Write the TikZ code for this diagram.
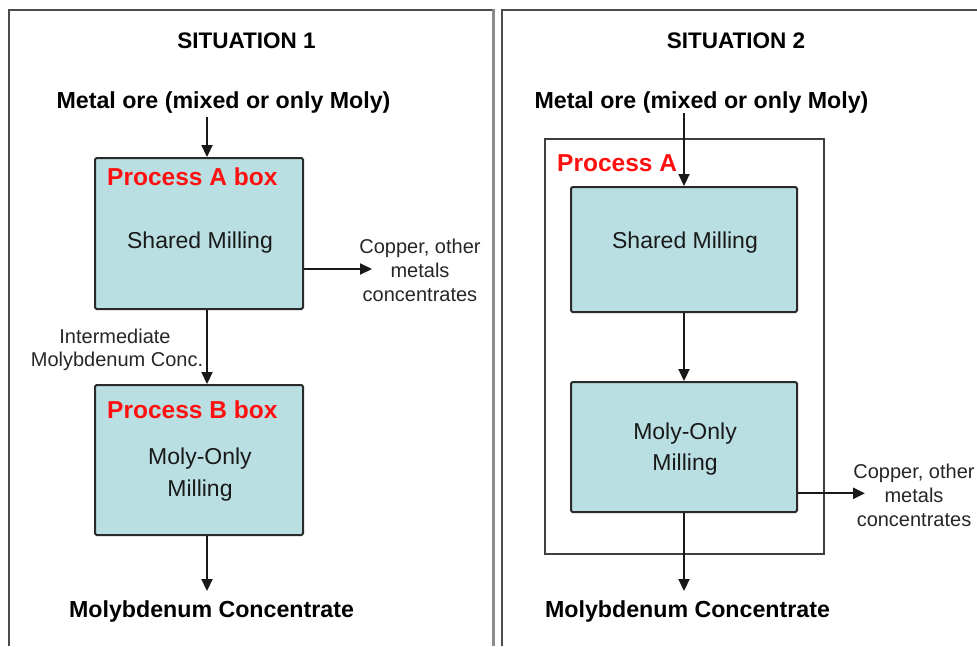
\documentclass[tikz,border=0pt]{standalone}
\usepackage{fontspec}
\setmainfont{Liberation Sans}
\usetikzlibrary{arrows.meta}
\definecolor{boxfill}{HTML}{B9DFE3}
\definecolor{boxline}{HTML}{2A2A2A}
\definecolor{procred}{HTML}{FF1010}
\tikzset{
  procbox/.style={draw=boxline, line width=2pt, fill=boxfill, rounded corners=1.5pt, inner sep=0pt},
  outerbox/.style={draw=boxline!90, line width=1.7pt, fill=none, inner sep=0pt},
  arr/.style={line width=2.2pt, draw=black!90, -{Triangle[width=11pt,length=12pt]}},
  titletxt/.style={font=\fontsize{22.5}{27}\selectfont\bfseries, inner sep=0pt, anchor=base},
  bigtxt/.style={font=\fontsize{23.2}{27}\selectfont\bfseries, inner sep=0pt, anchor=base},
  redtxt/.style={font=\fontsize{24.5}{28}\selectfont\bfseries, text=procred, inner sep=0pt, anchor=base west},
  boxtxt/.style={font=\fontsize{23}{32}\selectfont, text=black!90, inner sep=0pt, anchor=base},
  smalltxt/.style={font=\fontsize{20}{24}\selectfont, text=black!85, inner sep=0pt, anchor=base, align=center}
}
\begin{document}
\begin{tikzpicture}[x=1pt,y=-1pt]
\useasboundingbox (0,0) rectangle (977,646);
% panel frames
\draw[line width=1.6pt, draw=black!70] (9,646) -- (9,10) -- (493,10);
\draw[line width=3pt, draw=black!45] (493,9.2) -- (493,646);
\draw[line width=1.6pt, draw=black!70] (502,646) -- (502,10) -- (977,10);

% ---------- Situation 1 ----------
\node[titletxt] (s1) at (246.5,48) {SITUATION 1};
\node[bigtxt] (ore1) at (223.5,108) {Metal ore (mixed or only Moly)};
\node[procbox, minimum width=208pt, minimum height=151pt] (A1) at (199,233.5) {};
\node[procbox, minimum width=208pt, minimum height=150pt] (B1) at (199,460) {};
\node[redtxt] (A1lab) at (107,185) {Process A box};
\node[boxtxt] (A1txt) at (200,248.3) {Shared Milling};
\node[redtxt] (B1lab) at (107,418) {Process B box};
\node[boxtxt] (B1txt1) at (200,464) {Moly-Only};
\node[boxtxt] (B1txt2) at (200,496) {Milling};
\node[smalltxt] (cu1a) at (420,253.3) {Copper, other};
\node[smalltxt] (cu1b) at (420,277.5) {metals};
\node[smalltxt] (cu1c) at (420,301.5) {concentrates};
\node[smalltxt] (int1) at (115,343.3) {Intermediate};
\node[smalltxt] (int2) at (117,366.7) {Molybdenum Conc.};
\node[bigtxt] (mo1) at (211.5,617) {Molybdenum Concentrate};

\coordinate (t1) at (207,117);
\coordinate (c1) at (372,269);
\coordinate (b1end) at (207,591);
\draw[arr] (t1) -- (t1 |- A1.north);
\draw[arr] (t1 |- A1.south) -- (t1 |- B1.north);
\draw[arr] (A1.east |- c1) -- (c1);
\draw[arr] (t1 |- B1.south) -- (b1end);

% ---------- Situation 2 ----------
\node[titletxt] (s2) at (736,48) {SITUATION 2};
\node[bigtxt] (ore2) at (701.5,108) {Metal ore (mixed or only Moly)};
\node[outerbox, minimum width=279pt, minimum height=415pt] (P2) at (684.5,346.5) {};
\node[redtxt] (P2lab) at (557,171.7) {Process A};
\node[procbox, minimum width=226pt, minimum height=125pt] (A2) at (684,249.5) {};
\node[procbox, minimum width=226pt, minimum height=130pt] (B2) at (684,447) {};
\node[boxtxt] (A2txt) at (685,248) {Shared Milling};
\node[boxtxt] (B2txt1) at (685,439) {Moly-Only};
\node[boxtxt] (B2txt2) at (685,470.5) {Milling};
\node[smalltxt] (cu2a) at (914,478.3) {Copper, other};
\node[smalltxt] (cu2b) at (914,502.5) {metals};
\node[smalltxt] (cu2c) at (914,526.5) {concentrates};
\node[bigtxt] (mo2) at (687.5,617) {Molybdenum Concentrate};

\coordinate (t2) at (684,113);
\coordinate (c2) at (865,493.3);
\coordinate (b2end) at (684,591);
\draw[arr] (t2) -- (A2.north);
\draw[arr] (A2.south) -- (B2.north);
\draw[arr] (B2.east |- c2) -- (c2);
\draw[arr] (B2.south) -- (b2end);
\end{tikzpicture}
\end{document}
